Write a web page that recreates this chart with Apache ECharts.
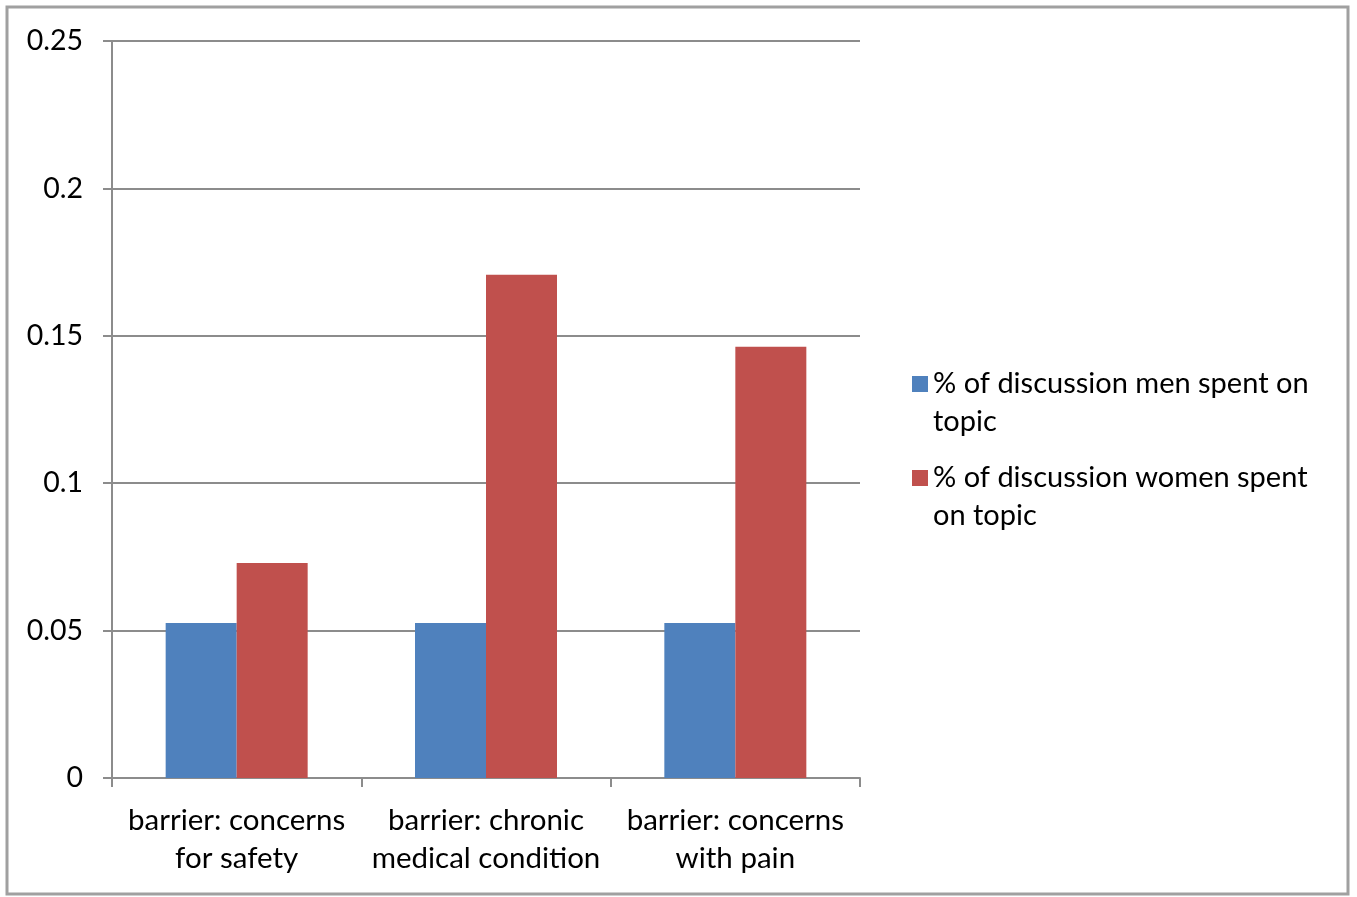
<!DOCTYPE html>
<html>
<head>
<meta charset="utf-8">
<script src="https://cdn.jsdelivr.net/npm/echarts@6/dist/echarts.min.js"></script>
<style>
  html, body { margin: 0; padding: 0; background: #ffffff; }
  #chart { width: 1357px; height: 897px; }
</style>
</head>
<body>
<div id="chart"></div>
<script>
// Share of discussion time spent on each barrier topic, by gender
const categories = [
  'barrier: concerns\nfor safety',
  'barrier: chronic\nmedical condition',
  'barrier: concerns\nwith pain'
];
const seriesNames = [
  '% of discussion men spent on topic',
  '% of discussion women spent on topic'
];
// Leading blank line keeps the swatch level with the first text line
const legendLabels = [
  '\n% of discussion men spent on\ntopic',
  '\n% of discussion women spent\non topic'
];
const menValues = [0.0526, 0.0526, 0.0526];
const womenValues = [0.0729, 0.1707, 0.1463];
const yTicks = ['0', '0.05', '0.1', '0.15', '0.2', '0.25'];

const FONT = 'Lato';
const GREY = '#8c8c8c';

const chart = echarts.init(document.getElementById('chart'), null, { renderer: 'canvas' });

function legendFor(i, top) {
  return {
    data: [seriesNames[i]],
    orient: 'vertical',
    left: 912,
    top: top,
    padding: 0,
    icon: 'rect',
    itemWidth: 16,
    itemHeight: 16,
    itemGap: 8,
    formatter: () => legendLabels[i],
    textStyle: {
      fontFamily: FONT,
      fontSize: 29,
      color: '#000',
      lineHeight: 38
    }
  };
}

chart.setOption({
  animation: false,
  backgroundColor: '#ffffff',
  textStyle: { fontFamily: FONT },
  graphic: [{
    type: 'rect',
    shape: { x: 7, y: 7, width: 1341, height: 887 },
    style: { fill: 'none', stroke: '#a0a0a0', lineWidth: 3 },
    silent: true
  }],
  grid: { left: 112, right: 497, top: 41, bottom: 119, containLabel: false },
  legend: [legendFor(0, 327), legendFor(1, 421)],
  xAxis: {
    type: 'category',
    data: categories,
    axisLine: { show: true, lineStyle: { color: GREY, width: 2 } },
    axisTick: { show: true, alignWithLabel: false, length: 9, lineStyle: { color: GREY, width: 2 } },
    axisLabel: {
      color: '#000',
      fontFamily: FONT,
      fontSize: 29.5,
      lineHeight: 38,
      margin: 23,
      interval: 0
    },
    splitLine: { show: false }
  },
  yAxis: {
    type: 'value',
    min: 0,
    max: 0.25,
    interval: 0.05,
    axisLine: { show: true, lineStyle: { color: GREY, width: 2 } },
    axisTick: { show: true, length: 9, lineStyle: { color: GREY, width: 2 } },
    axisLabel: {
      color: '#000',
      fontFamily: FONT,
      fontSize: 28.5,
      margin: 29,
      formatter: (v) => yTicks[Math.round(v / 0.05)]
    },
    splitLine: { show: true, lineStyle: { color: GREY, width: 2 } }
  },
  series: [
    {
      name: seriesNames[0],
      type: 'bar',
      data: menValues,
      barWidth: 71,
      barGap: '0%',
      itemStyle: { color: '#4F81BD' }
    },
    {
      name: seriesNames[1],
      type: 'bar',
      data: womenValues,
      barWidth: 71,
      barGap: '0%',
      itemStyle: { color: '#C0504D' }
    }
  ]
});
</script>
</body>
</html>
